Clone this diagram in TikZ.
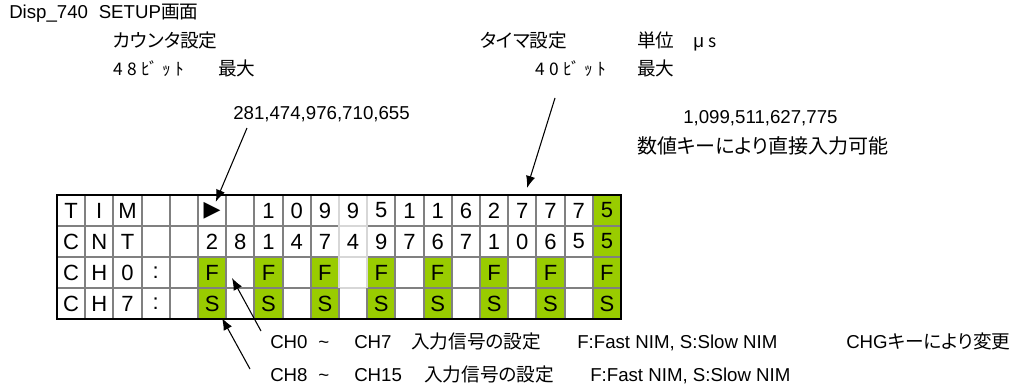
\documentclass[tikz,border=0pt]{standalone}
\usepackage{fontspec}
\setmainfont{Liberation Sans}
\newfontfamily\jpfont{Noto Sans CJK JP}[Scale=1.0,RawFeature={+palt}]
\newfontfamily\jphalf{Noto Sans CJK JP}[Scale=0.93]
\newfontfamily\symfont{DejaVu Sans}
\usepackage{xcolor}
\usetikzlibrary{arrows.meta}
\definecolor{lcdgreen}{RGB}{153,204,0}
\definecolor{gridgray}{RGB}{128,128,128}
\definecolor{lightgrid}{RGB}{215,215,215}
\newcommand{\jp}[1]{{\jpfont #1}}
\newcommand{\bitsp}{\hspace{3.2pt}}

\begin{document}
\begin{tikzpicture}[x=0.75pt,y=-0.75pt,
    txt/.style={anchor=base west,inner sep=0pt,font=\fontsize{14}{16}\selectfont},
    cell/.style={inner sep=0pt,font=\fontsize{16.5}{18}\selectfont},
    ptr/.style={-{Latex[length=9pt,width=7pt]},line width=0.8pt}]
    \useasboundingbox (0,0) rectangle (1026,389);
    % headings
    \node[txt] (title) at (9,18) {Disp\_740\hspace{8pt}SETUP\jp{画面}};
    \node[txt] (cntlbl) at (113,47) {\jp{カウンタ設定}};
    \node[txt] (cntbits) at (113,75) {{\jphalf 4\bitsp 8\bitsp ﾋﾞ\bitsp ｯ\bitsp ﾄ}};
    \node[txt] (cntmax) at (218,75) {\jp{最大}};
    \node[txt] (cntval) at (233,119) {281,474,976,710,655};
    \node[txt] (timlbl) at (480,47) {\jp{タイマ設定}};
    \node[txt] (unit) at (637,47) {\jp{単位}\hspace{14pt}μ\hspace{3pt}{\jphalf s}};
    \node[txt] (timbits) at (535,75) {{\jphalf 4\bitsp 0\bitsp ﾋﾞ\bitsp ｯ\bitsp ﾄ}};
    \node[txt] (timmax) at (637,75) {\jp{最大}};
    \node[txt] (timval) at (683,123) {1,099,511,627,775};
    \node[txt,font=\fontsize{15}{17}\selectfont] (numkey) at (637,153) {\jp{数値キーにより直接入力可能}};
    % lcd cells
    \fill[lcdgreen] (592.8,195) rectangle (621,257);
    \foreach \c in {6,8,...,20}
        \fill[lcdgreen] ({57+(\c-1)*28.2},257) rectangle ({57+\c*28.2},319);
    \foreach \c in {1,...,19}
        \draw[gridgray,line width=1.5pt] ({57+\c*28.2},195) -- ({57+\c*28.2},319);
    \foreach \r in {1,2,3}
        \draw[gridgray,line width=1.5pt] (57,{195+\r*31}) -- (621,{195+\r*31});
    \draw[lightgrid,line width=1.5pt] (339,195) -- (339,288) (367.2,195) -- (367.2,288);
    \draw[lightgrid,line width=1.5pt] (339.8,226) -- (366.4,226) (339.8,257) -- (366.4,257) (339.8,288) -- (366.4,288);
    \draw[line width=2.2pt] (57,195) rectangle (621,319);
    \foreach \ch [count=\c] in {T,I,M,{},{},{\symfont ▶},{},1,0,9,9,5,1,1,6,2,7,7,7,5}
        \node[cell] (tim-\c) at ({57+(\c-0.5)*28.2},210.5) {\ch};
    \foreach \ch [count=\c] in {C,N,T,{},{},2,8,1,4,7,4,9,7,6,7,1,0,6,5,5}
        \node[cell] (cnt-\c) at ({57+(\c-0.5)*28.2},241.5) {\ch};
    \foreach \ch [count=\c] in {C,H,0,:,{},F,{},F,{},F,{},F,{},F,{},F,{},F,{},F}
        \node[cell] (cha-\c) at ({57+(\c-0.5)*28.2},272.5) {\ch};
    \foreach \ch [count=\c] in {C,H,7,:,{},S,{},S,{},S,{},S,{},S,{},S,{},S,{},S}
        \node[cell] (chb-\c) at ({57+(\c-0.5)*28.2},303.5) {\ch};
    % notes below
    \node[txt] (ch0a) at (270,348) {CH0};
    \node[txt] (ch0t) at (318,348) {\textasciitilde};
    \node[txt] (ch0b) at (354,348) {CH7};
    \node[txt] (ch0j) at (411,348) {\jp{入力信号の設定}};
    \node[txt] (ch0f) at (577,348) {F:Fast NIM, S:Slow NIM};
    \node[txt] (chg) at (846,348) {CHG\jp{キーにより変更}};
    \node[txt] (ch8a) at (270,381) {CH8};
    \node[txt] (ch8t) at (318,381) {\textasciitilde};
    \node[txt] (ch8b) at (354,381) {CH15};
    \node[txt] (ch8j) at (424,381) {\jp{入力信号の設定}};
    \node[txt] (ch8f) at (590,381) {F:Fast NIM, S:Slow NIM};
    % arrows
    \coordinate (a1) at (247,128);
    \coordinate (a2) at (555,98);
    \coordinate (t2) at (527,188);
    \coordinate (a3) at (261,331);
    \coordinate (t3) at (232,278);
    \coordinate (a4) at (250,369);
    \coordinate (t4) at (222,318);
    \draw[ptr] (a1) -- (tim-6);
    \draw[ptr] (a2) -- (t2);
    \draw[ptr] (a3) -- (t3);
    \draw[ptr] (a4) -- (t4);
\end{tikzpicture}
\end{document}
